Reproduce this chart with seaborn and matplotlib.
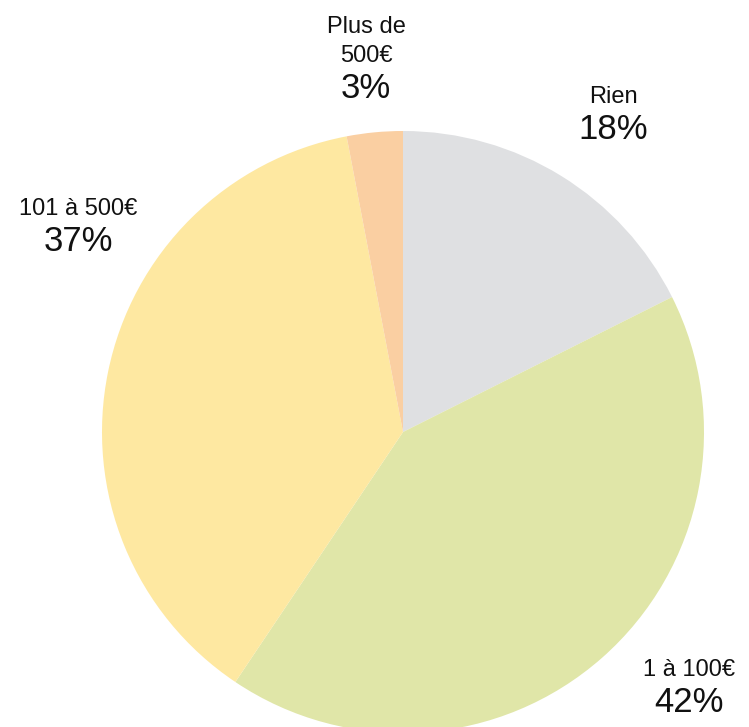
import numpy as np
import matplotlib
matplotlib.use("Agg")
import matplotlib.pyplot as plt
import seaborn as sns

sns.set_theme(style="white")
plt.rcParams['font.family'] = ['Liberation Sans', 'DejaVu Sans']

# data
categories = ["Rien", "1 à 100€", "101 à 500€", "Plus de\n500€"]
values = [17.6, 41.8, 37.6, 3.0]
pct_labels = ["18%", "42%", "37%", "3%"]
colors = ["#DFE0E2", "#E0E6A8", "#FEE8A1", "#FACFA2"]
# label placement tweaks: angle nudge (degrees) and distance from centre (radii)
label_shift = [-1.5, 7.2, -21.3, 0.4]
label_dist = [1.275, 1.265, 1.285, 1.21]

W, H = 749, 727
cx, cy, r = 403, 432, 301  # pixel centre and radius of the pie

fig = plt.figure(figsize=(W / 100, H / 100), dpi=100)
ax = fig.add_axes([0, 0, 1, 1])

wedges, _ = ax.pie(values, colors=colors, startangle=90, counterclock=False,
                   radius=1, wedgeprops=dict(linewidth=0))

# place axes so the pie sits where it is in the reference
ax.set_xlim(-cx / r, (W - cx) / r)
ax.set_ylim(-(H - cy) / r, cy / r)
ax.set_aspect('equal')
ax.axis('off')

total = sum(values)
gap = 2.5 / r
start = 90.0
for name, v, lab, sh, d in zip(categories, values, pct_labels, label_shift, label_dist):
    span = v / total * 360
    mid = np.deg2rad(start - span / 2 + sh)
    start -= span
    x, y = d * np.cos(mid), d * np.sin(mid)
    ax.text(x, y + gap, name, ha='center', va='bottom', fontsize=17,
            linespacing=1.45, color='#111111')
    ax.text(x, y - gap, lab, ha='center', va='top', fontsize=25, color='#111111')

fig.savefig("out.png", dpi=100)
